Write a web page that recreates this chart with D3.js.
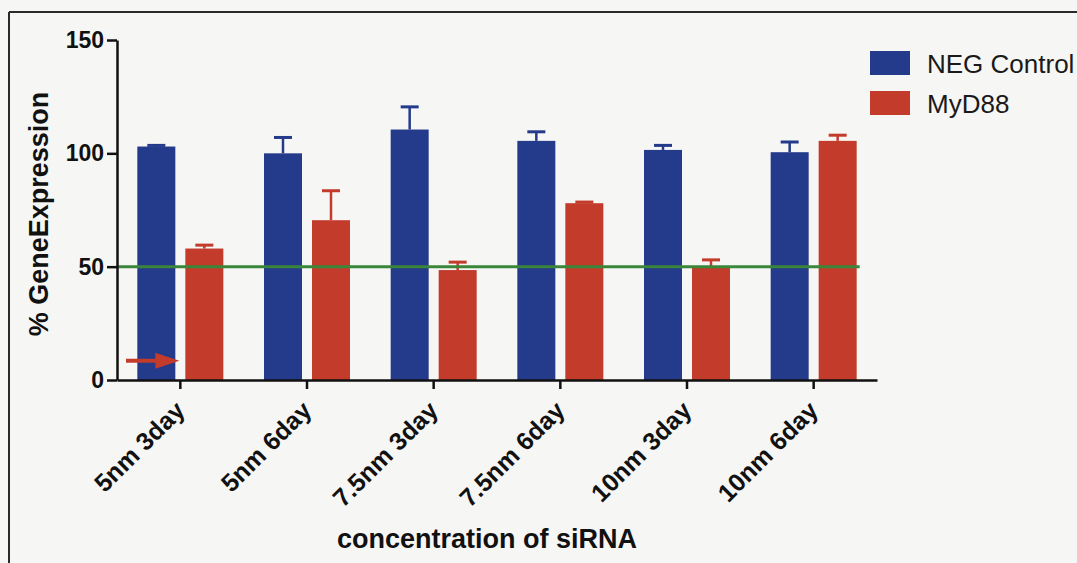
<!DOCTYPE html>
<html>
<head>
<meta charset="utf-8">
<script src="https://cdn.jsdelivr.net/npm/d3@7/dist/d3.min.js"></script>
<style>
  html, body { margin: 0; padding: 0; background: #f6f6f4; }
  svg { display: block; font-family: "Liberation Sans", Arial, Helvetica, sans-serif; }
</style>
</head>
<body>
<svg id="chart" width="1077" height="563"></svg>
<script>
// siRNA knock-down: % gene expression per condition
const categories = ["5nm 3day", "5nm 6day", "7.5nm 3day", "7.5nm 6day", "10nm 3day", "10nm 6day"];
const seriesNames = ["NEG Control", "MyD88"];
const negControl = [103, 100, 110.5, 105.5, 101.5, 100.5];
const negControlErr = [0.5, 7, 10, 4, 2, 4.5];
const myd88 = [58, 70.5, 48.5, 78, 49.5, 105.5];
const myd88Err = [1.5, 13, 3.5, 0.5, 3.5, 2.5];
const yTicks = [0, 50, 100, 150];
const threshold = 50;

const colors = { "NEG Control": "#243a8a", "MyD88": "#c23b2b" };

const svg = d3.select("#chart");

// outer frame of the figure panel
svg.append("line").attr("x1", 9).attr("x2", 1077).attr("y1", 12).attr("y2", 12)
  .attr("stroke", "#2a2a2a").attr("stroke-width", 2);
svg.append("line").attr("x1", 9).attr("x2", 9).attr("y1", 12).attr("y2", 563)
  .attr("stroke", "#2a2a2a").attr("stroke-width", 2);

const plot = { left: 117, right: 877, top: 40, bottom: 380 };

const x0 = d3.scaleBand().domain(categories).range([plot.left, plot.right]).padding(0);
const groupW = 86;
const x1 = d3.scaleBand().domain(seriesNames).range([0, groupW]).paddingInner(10 / 48).paddingOuter(0);
const y = d3.scaleLinear().domain([0, 150]).range([plot.bottom, plot.top]);

const rows = categories.map((c, i) => ({
  cat: c,
  values: [
    { name: "NEG Control", v: negControl[i], e: negControlErr[i] },
    { name: "MyD88", v: myd88[i], e: myd88Err[i] }
  ]
}));

const groups = svg.append("g").selectAll("g").data(rows).join("g")
  .attr("transform", d => `translate(${x0(d.cat) + (x0.bandwidth() - groupW) / 2},0)`);

// upper error whiskers, drawn beneath the bars
groups.selectAll("g.err").data(d => d.values).join("g").attr("class", "err")
  .each(function (d) {
    const g = d3.select(this);
    const cx = x1(d.name) + x1.bandwidth() / 2;
    g.append("line").attr("x1", cx).attr("x2", cx)
      .attr("y1", y(d.v)).attr("y2", y(d.v + d.e))
      .attr("stroke", colors[d.name]).attr("stroke-width", 2.5);
    g.append("line").attr("x1", cx - 9).attr("x2", cx + 9)
      .attr("y1", y(d.v + d.e)).attr("y2", y(d.v + d.e))
      .attr("stroke", colors[d.name]).attr("stroke-width", 3);
  });

groups.selectAll("rect").data(d => d.values).join("rect")
  .attr("x", d => x1(d.name))
  .attr("width", x1.bandwidth())
  .attr("y", d => y(d.v))
  .attr("height", d => y(0) - y(d.v))
  .attr("fill", d => colors[d.name]);

// 50% reference line
const lastRed = x0(categories[categories.length - 1]) + (x0.bandwidth() - groupW) / 2 + x1("MyD88") + x1.bandwidth();
svg.append("line")
  .attr("x1", plot.left).attr("x2", lastRed + 3)
  .attr("y1", y(threshold)).attr("y2", y(threshold))
  .attr("stroke", "#3a863a").attr("stroke-width", 3);

// arrow pointing at the first MyD88 bar
const arrowY = y(8.5);
const arrowTip = x0(categories[0]) + (x0.bandwidth() - groupW) / 2 + x1("MyD88") - 6;
svg.append("line").attr("x1", 126).attr("x2", arrowTip - 20)
  .attr("y1", arrowY).attr("y2", arrowY)
  .attr("stroke", "#c23b2b").attr("stroke-width", 4);
svg.append("path")
  .attr("d", `M${arrowTip - 24},${arrowY - 8} L${arrowTip},${arrowY} L${arrowTip - 24},${arrowY + 8} Z`)
  .attr("fill", "#c23b2b");

// axes
const yAxis = svg.append("g").attr("transform", `translate(${plot.left},0)`)
  .call(d3.axisLeft(y).tickValues(yTicks).tickSize(10).tickSizeOuter(0).tickPadding(3));
yAxis.select(".domain").attr("stroke", "#111").attr("stroke-width", 2.5);
yAxis.selectAll(".tick line").attr("stroke", "#111").attr("stroke-width", 2.5);
yAxis.selectAll(".tick text").attr("fill", "#111")
  .style("font-size", "23px").style("font-weight", "bold");

const xAxis = svg.append("g").attr("transform", `translate(0,${plot.bottom})`)
  .call(d3.axisBottom(x0).tickSize(9).tickSizeOuter(0));
xAxis.select(".domain").attr("stroke", "#111").attr("stroke-width", 2.5);
xAxis.selectAll(".tick line").attr("stroke", "#111").attr("stroke-width", 2.5);
xAxis.selectAll(".tick text")
  .attr("fill", "#111")
  .style("font-size", "25px").style("font-weight", "bold")
  .attr("text-anchor", "end")
  .attr("dy", null)
  .attr("y", null)
  .attr("transform", "translate(6,32) rotate(-45)");

// axis titles
svg.append("text")
  .attr("transform", `translate(48,${(plot.top + plot.bottom) / 2 + 4}) rotate(-90)`)
  .attr("text-anchor", "middle")
  .style("font-size", "27px").style("font-weight", "bold").attr("fill", "#111")
  .text("% GeneExpression");

svg.append("text")
  .attr("x", 487).attr("y", 548)
  .attr("text-anchor", "middle")
  .style("font-size", "27px").style("font-weight", "bold").attr("fill", "#111")
  .text("concentration of siRNA");

// legend
const legend = svg.append("g").selectAll("g").data(seriesNames).join("g")
  .attr("transform", (d, i) => `translate(870,${51 + i * 40})`);
legend.append("rect").attr("width", 40).attr("height", 24).attr("fill", d => colors[d]);
legend.append("text").attr("x", 57).attr("y", 22)
  .style("font-size", "26px").attr("fill", "#1a1a1a")
  .text(d => d);
</script>
</body>
</html>
